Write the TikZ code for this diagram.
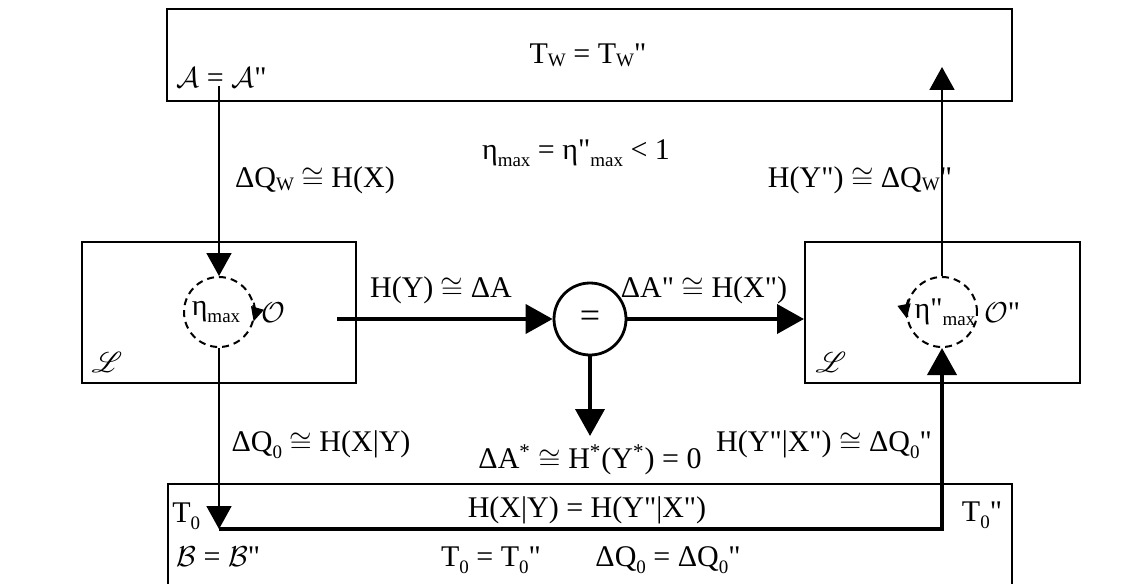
\documentclass[tikz,border=0pt]{standalone}
\usepackage{fontspec}
\setmainfont{Liberation Serif}[Ligatures=TeXOff]
\usepackage{mathrsfs}
\usetikzlibrary{arrows.meta}

\newcommand\lsub[1]{\raisebox{-3.5pt}{\fontsize{9.5}{10}\selectfont #1}}
\newcommand\wsub{\raisebox{-1.5pt}{\fontsize{9.5}{10}\selectfont W}}

\tikzset{
  box/.style={draw, line width=1pt, inner sep=0pt},
  dcirc/.style={circle, draw, dash pattern=on 3.5pt off 2.5pt, line width=1pt, minimum size=35pt, inner sep=0pt},
  thinarr/.style={line width=0.9pt, -{Triangle[length=11.5pt,width=12.5pt]}},
  thickarr/.style={line width=2pt, -{Triangle[length=13.5pt,width=14.5pt]}},
  turnarr/.style={line width=0.9pt, -{Triangle[length=7pt,width=6.5pt]}},
  lbl/.style={inner sep=0pt}
}

\begin{document}
\begin{tikzpicture}[x=0.5pt,y=-0.5pt,font=\fontsize{15}{18}\selectfont]
\clip (0,0) rectangle (1143,583);
% boxes
\node[box, minimum width=422.5pt, minimum height=46pt] (topbox) at (589.5,55) {};
\node[box, minimum width=137pt, minimum height=70.5pt] (lbox) at (219,312.5) {};
\node[box, minimum width=137.5pt, minimum height=70.5pt] (rbox) at (942.5,312.5) {};
\node[box, minimum width=422pt, minimum height=70pt] (botbox) at (590,554) {};
% circles
\node[dcirc] (lcirc) at (219,312) {};
\node[dcirc] (rcirc) at (942,312) {};
\node[circle, draw, line width=1.4pt, minimum size=36pt, inner sep=0pt, font=\fontsize{18}{18}\selectfont] (eq) at (590,319) {=};
\draw[turnarr] (lcirc.15) arc[start angle=15, end angle=-16, radius=17.5pt];
\draw[turnarr] (rcirc.160) arc[start angle=160, end angle=191, radius=17.5pt];
% free ends
\coordinate (qwin) at (219,86);
\coordinate (qwout) at (942,67);
\coordinate (hin) at (337,319);
\coordinate (astar) at (590,436);
\coordinate (b0) at (219,529);
% connectors
\draw[thinarr] (qwin) -- (lcirc.north);
\draw[thinarr] (rcirc.north) -- (qwout);
\draw[thickarr] (hin) -- (eq.west);
\draw[thickarr] (eq.east) -- (eq.east -| rbox.west);
\draw[thickarr] (eq.south) -- (astar);
\draw[thinarr] (lcirc.south) -- (b0);
\draw[thickarr] (b0) -| (rcirc.south);
% labels
\node[lbl] (tw) at (588,55) {T\wsub{} = T\wsub"};
\node[lbl, anchor=west] (aa) at (176,78) {$\mathcal{A}$ = $\mathcal{A}$"};
\node[lbl] (dqw) at (315,180) {ΔQ\wsub{} $\cong$ H(X)};
\node[lbl] (etamax) at (576,153) {η\lsub{max} = η"\lsub{max} < 1};
\node[lbl] (hyqw) at (860,180) {H(Y") $\cong$ ΔQ\wsub"};
\node[lbl] (hya) at (441,290) {H(Y) $\cong$ ΔA};
\node[lbl] (dax) at (704,290) {ΔA" $\cong$ H(X")};
\node[lbl] (leta) at (216,312) {η\lsub{max}};
\node[lbl] (lo) at (273,313) {$\mathcal{O}$};
\node[lbl] (ll) at (107,362) {$\mathscr{L}$};
\node[lbl] (reta) at (945,312) {η"\lsub{max}};
\node[lbl] (ro) at (1002,313) {$\mathcal{O}$"};
\node[lbl] (rl) at (831,362) {$\mathscr{L}$};
\node[lbl] (dq0) at (321,445) {ΔQ\lsub{0} $\cong$ H(X|Y)};
\node[lbl] (dastar) at (590,460) {ΔA\textsuperscript{*} $\cong$ H\textsuperscript{*}(Y\textsuperscript{*}) = 0};
\node[lbl] (hyx) at (824,445) {H(Y"|X") $\cong$ ΔQ\lsub{0}"};
\node[lbl, anchor=west] (t0) at (172,516) {T\lsub{0}};
\node[lbl] (hxy) at (587,510) {H(X|Y) = H(Y"|X")};
\node[lbl] (t0b) at (982,515) {T\lsub{0}"};
\node[lbl, anchor=west] (bb) at (176,557) {$\mathcal{B}$ = $\mathcal{B}$"};
\node[lbl] (t0eq) at (491,560) {T\lsub{0} = T\lsub{0}"};
\node[lbl] (dq0eq) at (668,560) {ΔQ\lsub{0} = ΔQ\lsub{0}"};
\end{tikzpicture}
\end{document}
